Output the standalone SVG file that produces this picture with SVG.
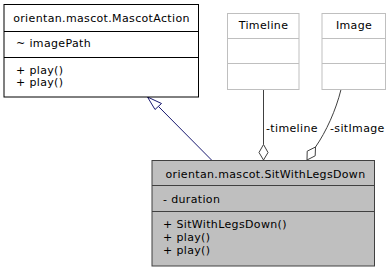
<svg xmlns="http://www.w3.org/2000/svg" width="390" height="272" viewBox="0 0 390 272">
  <defs>
    <style>
      text { font-family: "DejaVu Sans", "Liberation Sans", sans-serif; font-size: 11px; letter-spacing: 0.35px; fill: #000; }
      .mid { text-anchor: middle; }
      .box { fill: #fff; stroke: #000; stroke-width: 1; }
      .ext { fill: #fff; stroke: #bfbfbf; stroke-width: 1; }
      .cur { fill: #bfbfbf; stroke: #404040; stroke-width: 1; }
      .sep { stroke: #000; stroke-width: 1; }
      .sepx { stroke: #bfbfbf; stroke-width: 1; }
      .sepc { stroke: #404040; stroke-width: 1; }
      .gen { stroke: #191970; stroke-width: 1; fill: none; }
      .agg { stroke: #404040; stroke-width: 1; fill: none; }
      .head { fill: #fff; }
    </style>
  </defs>

  <!-- connectors -->
  <g id="edges">
    <!-- generalization: SitWithLegsDown -> MascotAction -->
    <line class="gen" x1="211.5" y1="160" x2="158.5" y2="106.5"/>
    <polygon class="gen head" points="147.5,97 161.5,103.5 155,109.5"/>
    <!-- aggregation: timeline -->
    <line class="agg" x1="263.5" y1="89.5" x2="263.5" y2="144.5"/>
    <polygon class="agg head" points="263.5,144.5 268,152.5 263.5,160 259,152.5"/>
    <text x="266" y="131.5">-timeline</text>
    <!-- aggregation: sitImage -->
    <path class="agg" d="M341,89.5 C336,110 326,132 315.5,147"/>
    <polygon class="agg head" points="315.5,147 315.2,155.8 307,160 307.2,151.2"/>
    <text x="330" y="131.5">-sitImage</text>
  </g>

  <!-- orientan.mascot.MascotAction -->
  <g id="MascotAction">
    <rect class="box" x="4" y="4.5" width="194.5" height="92.5"/>
    <line class="sep" x1="4" y1="31.5" x2="198.5" y2="31.5"/>
    <line class="sep" x1="4" y1="57.5" x2="198.5" y2="57.5"/>
    <text class="mid" x="101.5" y="21.5">orientan.mascot.MascotAction</text>
    <text x="16" y="46.5">~ imagePath</text>
    <text x="16" y="73.5">+ play()</text>
    <text x="16" y="86">+ play()</text>
  </g>

  <!-- Timeline -->
  <g id="Timeline">
    <rect class="ext" x="227.5" y="13.5" width="71.5" height="76"/>
    <line class="sepx" x1="227.5" y1="38.5" x2="299" y2="38.5"/>
    <line class="sepx" x1="227.5" y1="63.5" x2="299" y2="63.5"/>
    <text class="mid" x="263.5" y="29">Timeline</text>
  </g>

  <!-- Image -->
  <g id="Image">
    <rect class="ext" x="322" y="13.5" width="63.5" height="76"/>
    <line class="sepx" x1="322" y1="38.5" x2="385.5" y2="38.5"/>
    <line class="sepx" x1="322" y1="63.5" x2="385.5" y2="63.5"/>
    <text class="mid" x="354" y="29">Image</text>
  </g>

  <!-- orientan.mascot.SitWithLegsDown -->
  <g id="SitWithLegsDown">
    <rect class="cur" x="152" y="160.5" width="222.5" height="105.5"/>
    <line class="sepc" x1="152" y1="185.5" x2="374.5" y2="185.5"/>
    <line class="sepc" x1="152" y1="211.5" x2="374.5" y2="211.5"/>
    <text class="mid" x="265.5" y="177.5">orientan.mascot.SitWithLegsDown</text>
    <text x="163" y="202.5">- duration</text>
    <text x="163" y="227.5">+ SitWithLegsDown()</text>
    <text x="163" y="241">+ play()</text>
    <text x="163" y="254">+ play()</text>
  </g>
</svg>
